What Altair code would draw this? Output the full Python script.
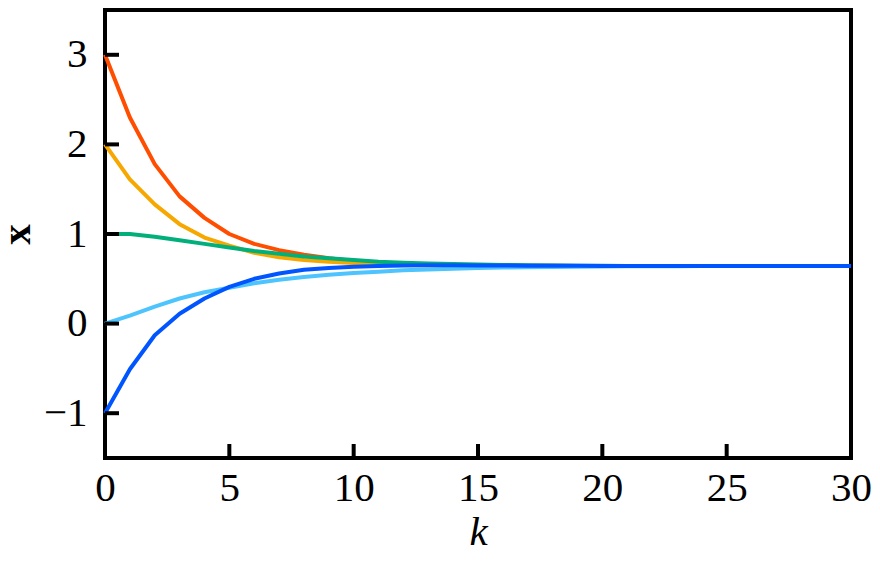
import altair as alt
import pandas as pd

k = list(range(31))

red = [3.00, 2.30, 1.78, 1.42, 1.18, 1.00, 0.89, 0.82, 0.77, 0.73, 0.70,
       0.68, 0.67, 0.66, 0.655, 0.65, 0.648, 0.646, 0.645, 0.644, 0.644,
       0.643, 0.643, 0.643, 0.643, 0.643, 0.643, 0.643, 0.643, 0.643, 0.643]
yellow = [2.00, 1.61, 1.33, 1.11, 0.96, 0.87, 0.79, 0.74, 0.71, 0.69, 0.675,
          0.665, 0.657, 0.652, 0.649, 0.647, 0.645, 0.644, 0.644, 0.643, 0.643,
          0.643, 0.643, 0.643, 0.643, 0.643, 0.643, 0.643, 0.643, 0.643, 0.643]
green = [1.00, 1.00, 0.97, 0.93, 0.89, 0.85, 0.81, 0.78, 0.75, 0.73, 0.71,
         0.69, 0.68, 0.67, 0.665, 0.66, 0.655, 0.65, 0.648, 0.646, 0.645,
         0.644, 0.643, 0.643, 0.643, 0.643, 0.643, 0.643, 0.643, 0.643, 0.643]
lightblue = [0.00, 0.09, 0.19, 0.28, 0.35, 0.40, 0.45, 0.49, 0.52, 0.545, 0.565,
             0.58, 0.595, 0.605, 0.613, 0.62, 0.625, 0.629, 0.632, 0.635, 0.637,
             0.639, 0.640, 0.641, 0.642, 0.642, 0.643, 0.643, 0.643, 0.643, 0.643]
blue = [-1.00, -0.51, -0.13, 0.11, 0.28, 0.41, 0.50, 0.56, 0.60, 0.62, 0.635,
        0.643, 0.648, 0.650, 0.650, 0.649, 0.648, 0.647, 0.646, 0.645, 0.644,
        0.644, 0.643, 0.643, 0.643, 0.643, 0.643, 0.643, 0.643, 0.643, 0.643]

series = [("red", red, "#FF4E00"), ("yellow", yellow, "#F7A800"),
          ("green", green, "#00AF7A"), ("lightblue", lightblue, "#4EC4FF"),
          ("blue", blue, "#0055FF")]

x_ticks = [0, 5, 10, 15, 20, 25, 30]
y_ticks = [-1, 0, 1, 2, 3]

FONT = "Liberation Serif"
FS = 41

df = pd.DataFrame({"k": k, "red": red, "yellow": yellow, "green": green,
                   "lightblue": lightblue, "blue": blue})

x_enc = alt.X("k:Q", scale=alt.Scale(domain=[0, 30], nice=False, zero=False),
              axis=alt.Axis(values=x_ticks, format="d", title="k",
                            titleFontStyle="italic",
                            titleFontWeight="normal", titleFont=FONT, titleFontSize=FS,
                            titleY=86, titleBaseline="alphabetic",
                            labelFont=FONT, labelFontSize=FS, labelPadding=10,
                            labelColor="black", titleColor="black",
                            domain=False, ticks=False, grid=False, labelFlush=False))


def y_enc(col):
    return alt.Y(f"{col}:Q", scale=alt.Scale(domain=[-1.5, 3.5], nice=False, zero=False),
                 axis=alt.Axis(values=y_ticks, format="d", title="x",
                               titleFontWeight="bold",
                               titleFont=FONT, titleFontSize=FS, titleAngle=-90,
                               titleX=-76, titleBaseline="alphabetic",
                               labelFont=FONT, labelFontSize=FS, labelPadding=18,
                               labelColor="black", titleColor="black",
                               domain=False, ticks=False, grid=False, labelFlush=False))


layers = []
for name, vals, color in series:
    layers.append(
        alt.Chart(df).mark_line(color=color, strokeWidth=4, strokeJoin="round")
        .encode(x=x_enc, y=y_enc(name))
    )

xt = pd.DataFrame({"v": x_ticks})
yt = pd.DataFrame({"v": y_ticks})

xtick_layer = alt.Chart(xt).mark_tick(orient="vertical", size=14, thickness=4,
                                      color="black", opacity=1, yOffset=-7).encode(
    x=alt.X("v:Q"), y=alt.datum(-1.5))
ytick_layer = alt.Chart(yt).mark_tick(orient="horizontal", size=14, thickness=4,
                                      color="black", opacity=1, xOffset=7).encode(
    x=alt.datum(0), y=alt.Y("v:Q"))

chart = alt.layer(*layers, xtick_layer, ytick_layer).properties(
    width=746, height=448,
    autosize=alt.AutoSizeParams(type="none"),
    padding={"left": 97, "top": 2, "right": 21, "bottom": 90},
).configure(background="white").configure_view(stroke="black", strokeWidth=4)

chart.save("out.html", embed_options={"renderer": "svg", "actions": False})
